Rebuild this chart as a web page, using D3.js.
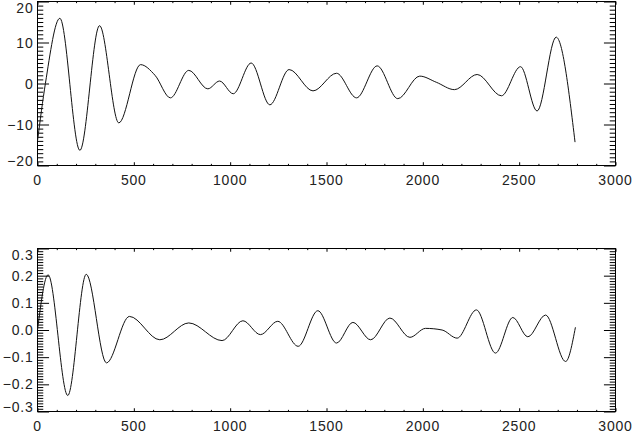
<!DOCTYPE html>
<html>
<head>
<meta charset="utf-8">
<script src="https://cdn.jsdelivr.net/npm/d3@7"></script>
<style>
  html, body { margin: 0; padding: 0; background: #fff; }
  svg { display: block; }
  text { font-family: "Liberation Sans", "DejaVu Sans", sans-serif; font-size: 14px; fill: #222; letter-spacing: 0.8px; }
</style>
</head>
<body>
<svg id="chart" width="633" height="433"></svg>
<script>
// ---- data ----
const xTickValues = [0, 500, 1000, 1500, 2000, 2500, 3000];
const xTickLabels = ["0", "500", "1000", "1500", "2000", "2500", "3000"];

const topYTicks = [-20, -10, 0, 10, 20];
const topYLabels = ["\u221220", "\u221210", "0", "10", "20"];

const botYTicks = [-0.3, -0.2, -0.1, 0.0, 0.1, 0.2, 0.3];
const botYLabels = ["\u22120.3", "\u22120.2", "\u22120.1", "0.0", "0.1", "0.2", "0.3"];

const topX = [0, 41, 116, 220, 322, 422, 535, 610, 690, 785, 884, 945, 1016, 1109, 1206, 1306, 1430,
              1552, 1656, 1763, 1870, 1984, 2070, 2164, 2282, 2408, 2507, 2593, 2692, 2790];
const topY = [-14.0, 0.0, 15.9, -16.3, 14.1, -9.6, 4.6, 2.0, -3.5, 3.2, -1.3, 0.6, -2.5, 5.0, -5.2, 3.4, -1.8,
              2.5, -3.5, 4.3, -3.7, 1.8, 0.3, -1.5, 2.2, -3.0, 4.1, -6.7, 11.3, -14.3];

const botX = [0, 55, 157, 253, 358, 477, 635, 785, 958, 1066, 1157, 1247, 1353, 1455,
              1552, 1637, 1729, 1829, 1933, 2014, 2100, 2178, 2278, 2377, 2467, 2545, 2637, 2741, 2792];
const botY = [0.0, 0.203, -0.241, 0.205, -0.121, 0.050, -0.036, 0.026, -0.039, 0.034, -0.017, 0.032, -0.060, 0.071,
              -0.048, 0.028, -0.036, 0.044, -0.027, 0.006, 0.000, -0.030, 0.074, -0.085, 0.046, -0.025, 0.055, -0.116, 0.010];

// ---- layout ----
const svg = d3.select("#chart");
const left = 37.5, right = 615.5;

const x = d3.scaleLinear().domain([0, 3000]).range([left, right]);

function panel(top, bottom, yDomain, yTicks, yLabels, yMinorStep, xs, ys) {
  const y = d3.scaleLinear().domain(yDomain).range([bottom, top]);
  const g = svg.append("g");
  const h = bottom - top, w = right - left;
  const yMajorLen = 0.02 * w, yMinorLen = 0.01 * w;
  const xMajorLen = 0.02 * h, xMinorLen = 0.01 * h;

  const xMinor = d3.range(0, 3001, 100).filter(v => xTickValues.indexOf(v) < 0);
  const nMinor = Math.round((yDomain[1] - yDomain[0]) / yMinorStep);
  const yMinor = d3.range(0, nMinor + 1).map(i => yDomain[0] + i * yMinorStep)
    .filter(v => !yTicks.some(t => Math.abs(t - v) < yMinorStep / 2));

  function addAxis(axis) {
    const a = g.append("g");
    return a;
  }
  // bottom axis (ticks inward)
  const mk = (gen, tr) => {
    const a = g.append("g").attr("transform", tr).call(gen);
    a.select(".domain").remove();
    a.selectAll("line").attr("stroke", "#000").attr("stroke-width", 1);
    a.selectAll("text").remove();
    return a;
  };
  mk(d3.axisBottom(x).tickValues(xTickValues).tickSize(-xMajorLen), `translate(0,${bottom})`);
  mk(d3.axisBottom(x).tickValues(xMinor).tickSize(-xMinorLen), `translate(0,${bottom})`);
  mk(d3.axisTop(x).tickValues(xTickValues).tickSize(-xMajorLen), `translate(0,${top})`);
  mk(d3.axisTop(x).tickValues(xMinor).tickSize(-xMinorLen), `translate(0,${top})`);
  mk(d3.axisLeft(y).tickValues(yTicks).tickSize(-yMajorLen), `translate(${left},0)`);
  mk(d3.axisLeft(y).tickValues(yMinor).tickSize(-yMinorLen), `translate(${left},0)`);
  mk(d3.axisRight(y).tickValues(yTicks).tickSize(-yMajorLen), `translate(${right},0)`);
  mk(d3.axisRight(y).tickValues(yMinor).tickSize(-yMinorLen), `translate(${right},0)`);

  // frame
  g.append("rect").attr("x", left).attr("y", top).attr("width", w).attr("height", h)
    .attr("fill", "none").attr("stroke", "#000").attr("stroke-width", 1);

  // x labels
  g.selectAll("text.xl").data(xTickValues).join("text").attr("class", "xl")
    .attr("x", d => x(d)).attr("y", bottom + 19).attr("text-anchor", "middle")
    .text((d, i) => xTickLabels[i]);

  // y labels (ends nudged inward like the reference)
  g.selectAll("text.yl").data(yTicks).join("text").attr("class", "yl")
    .attr("x", 33.5)
    .attr("y", d => {
      let c = y(d);
      c = Math.max(top + 6, Math.min(bottom - 4.5, c));
      return c + 5;
    })
    .attr("text-anchor", "end")
    .text((d, i) => yLabels[i]);

  // data line
  const pts = xs.map((v, i) => [v, ys[i]]);
  g.append("path").datum(pts)
    .attr("fill", "none").attr("stroke", "#111").attr("stroke-width", 1)
    .attr("d", d3.line().x(d => x(d[0])).y(d => y(d[1])).curve(d3.curveMonotoneX));
}

panel(1.5, 165.5, [-20, 20], topYTicks, topYLabels, 1, topX, topY);
panel(248.5, 411.5, [-0.3, 0.3], botYTicks, botYLabels, 0.01, botX, botY);
</script>
</body>
</html>
